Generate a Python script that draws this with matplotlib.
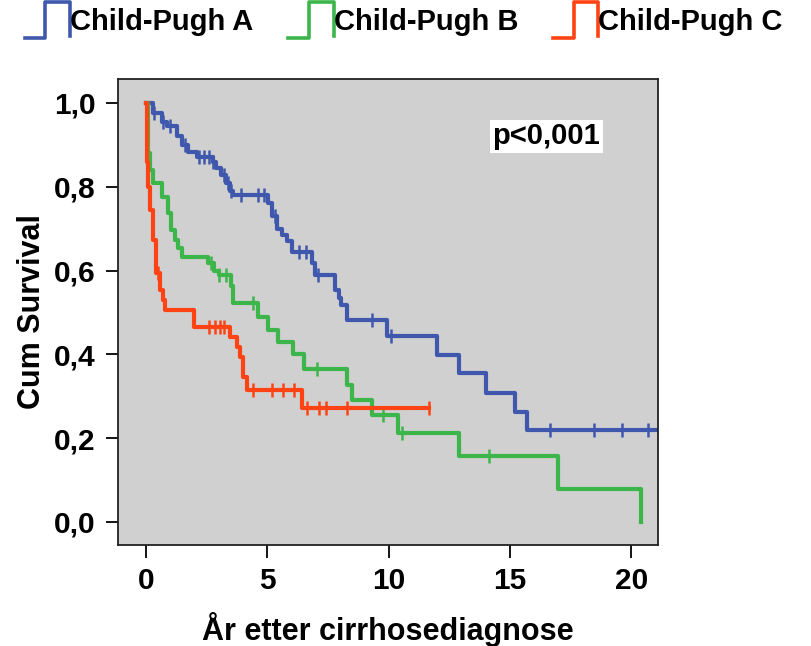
import matplotlib
matplotlib.use('Agg')
import matplotlib.pyplot as plt
import numpy as np
from matplotlib.legend_handler import HandlerBase
from matplotlib.lines import Line2D

plt.rcParams['font.family'] = ['Liberation Sans', 'DejaVu Sans']
plt.rcParams['font.weight'] = 'bold'

# Data
grupper = ['Child-Pugh A', 'Child-Pugh B', 'Child-Pugh C']
farger = ['#3f58ad', '#3cb54a', '#ff4314']

tid_a = [0, 0.3, 0.65, 0.85, 1.3, 1.5, 1.75, 2.1, 2.75, 2.9, 3.1, 3.3, 3.45, 3.6,
         5.05, 5.2, 5.4, 5.6, 5.8, 6.0, 6.85, 6.95, 7.8, 7.95, 8.05, 8.3, 9.93,
         12.0, 12.9, 14.0, 15.2, 15.7]
surv_a = [1.0, 0.975, 0.955, 0.944, 0.92, 0.90, 0.884, 0.872, 0.86, 0.845, 0.828,
          0.81, 0.79, 0.78, 0.76, 0.73, 0.70, 0.685, 0.67, 0.645, 0.618, 0.59,
          0.554, 0.535, 0.518, 0.482, 0.444, 0.398, 0.355, 0.308, 0.263, 0.22]
sensur_a = [0.35, 0.7, 1.0, 1.6, 2.2, 2.4, 2.6, 2.78, 3.2, 3.4, 3.5, 3.9, 4.6, 4.85,
            5.3, 6.3, 6.6, 7.1, 9.3, 10.1, 16.66, 18.47, 19.6, 20.7]
slutt_a = 21.1

tid_b = [0, 0.08, 0.15, 0.3, 0.65, 0.9, 1.05, 1.2, 1.32, 1.47, 2.56, 2.8, 3.0, 3.5,
         3.6, 4.6, 5.05, 5.45, 6.05, 6.5, 8.3, 8.5, 9.3, 10.4, 12.9, 17.0, 20.4]
surv_b = [1.0, 0.88, 0.84, 0.81, 0.776, 0.737, 0.697, 0.673, 0.654, 0.633, 0.618,
          0.60, 0.59, 0.562, 0.522, 0.49, 0.458, 0.43, 0.40, 0.365, 0.327, 0.29,
          0.255, 0.212, 0.158, 0.079, 0.0]
sensur_b = [2.7, 3.0, 3.3, 4.4, 7.05, 9.75, 10.55, 14.15]
slutt_b = 20.4

tid_c = [0, 0.03, 0.06, 0.1, 0.16, 0.3, 0.4, 0.6, 0.7, 0.8, 2.0, 3.47, 3.75, 3.88,
         4.0, 4.15, 6.45]
surv_c = [1.0, 0.93, 0.86, 0.80, 0.745, 0.673, 0.594, 0.554, 0.53, 0.506, 0.466,
          0.442, 0.418, 0.394, 0.346, 0.315, 0.272]
sensur_c = [0.5, 2.6, 2.85, 3.05, 3.2, 4.4, 5.2, 5.65, 6.1, 6.63, 7.13, 7.42, 8.3, 11.67]
slutt_c = 11.67

xticks = [0, 5, 10, 15, 20]
yticks = [0.0, 0.2, 0.4, 0.6, 0.8, 1.0]
ytick_labels = ['0,0', '0,2', '0,4', '0,6', '0,8', '1,0']


class StepHandler(HandlerBase):
    # legend glyph shaped like a step
    def create_artists(self, legend, orig_handle, xdescent, ydescent,
                       width, height, fontsize, trans):
        xs = np.array([0, 0.45, 0.45, 1.0, 1.0]) * width - xdescent
        ys = np.array([0, 0, 1.0, 1.0, 0.05]) * height - ydescent
        ln = Line2D(xs, ys, color=orig_handle.get_color(), lw=2.6)
        ln.set_transform(trans)
        return [ln]


fig = plt.figure(figsize=(8.12, 6.46), dpi=100)
ax = fig.add_axes([0.1453, 0.1563, 0.665, 0.7214])
ax.set_facecolor('#d0d0d0')

handles = []
serier = [(tid_a, surv_a, sensur_a, slutt_a),
          (tid_b, surv_b, sensur_b, slutt_b),
          (tid_c, surv_c, sensur_c, slutt_c)]
for (t, s, cens, slutt), farge, navn in zip(serier, farger, grupper):
    t = np.array(t)
    s = np.array(s)
    tt = np.append(t, slutt)
    ss = np.append(s, s[-1])
    ln, = ax.step(tt, ss, where='post', color=farge, lw=3.0, label=navn)
    cens = np.array(cens)
    idx = np.searchsorted(t, cens, side='right') - 1
    ax.plot(cens, s[idx], linestyle='none', marker='|', ms=10, mew=1.8, color=farge)
    handles.append(ln)

ax.set_xlim(-1.15, 21.1)
ax.set_ylim(-0.055, 1.057)
ax.set_xticks(xticks)
ax.set_yticks(yticks)
ax.set_yticklabels(ytick_labels)
ax.tick_params(labelsize=21.5, length=9, width=1.3, pad=7)
for sp in ax.spines.values():
    sp.set_linewidth(1.3)
    sp.set_color('#222222')

ax.set_xlabel('År etter cirrhosediagnose', fontsize=22, fontweight='bold', labelpad=12)
ax.set_ylabel('Cum Survival', fontsize=22, fontweight='bold', labelpad=5)

ax.text(16.5, 0.92, 'p<0,001', fontsize=21, fontweight='bold', ha='center', va='center',
        bbox=dict(facecolor='white', edgecolor='none', pad=2))

fig.legend(handles=handles, labels=grupper, loc='upper left', bbox_to_anchor=(0.02, 1.01),
           ncol=3, frameon=False, fontsize=21, handler_map={Line2D: StepHandler()},
           handlelength=1.55, handleheight=1.5, handletextpad=0.0, columnspacing=1.2,
           borderaxespad=0.1, borderpad=0.2)

plt.savefig('out.png', dpi=100)
